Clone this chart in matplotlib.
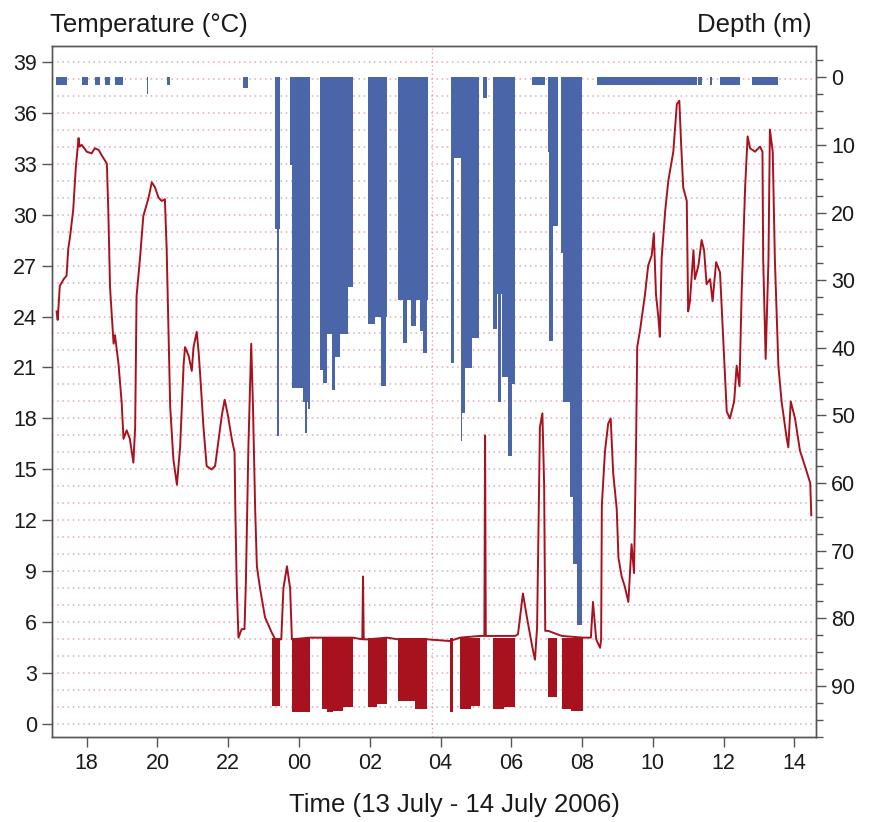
import matplotlib.pyplot as plt
import numpy as np

plt.rcParams['font.family'] = ['Liberation Sans', 'DejaVu Sans']

# time in hours from midnight of 13 July (values above 24 fall on 14 July)
temp_time = [17.15, 17.18, 17.24, 17.35, 17.43, 17.48, 17.53, 17.62, 17.69, 17.77,
             17.80, 17.86, 18.00, 18.14, 18.23, 18.34, 18.42, 18.57, 18.61, 18.66,
             18.71, 18.76, 18.80, 18.90, 18.99, 19.04, 19.13, 19.22, 19.32, 19.37,
             19.41, 19.51, 19.60, 19.75, 19.84, 19.93, 20.03, 20.12, 20.21, 20.26,
             20.31, 20.36, 20.45, 20.55, 20.64, 20.69, 20.74, 20.78, 20.88, 20.97,
             21.02, 21.11, 21.16, 21.21, 21.30, 21.39, 21.53, 21.63, 21.73, 21.82,
             21.90, 21.99, 22.10, 22.18, 22.20, 22.24, 22.29, 22.38, 22.46, 22.50,
             22.57, 22.65, 22.70, 22.76, 22.81, 22.90, 23.04, 23.23, 23.33, 23.50,
             23.56, 23.66, 23.75, 23.80, 24.31, 24.64, 25.53, 25.79, 25.81, 25.83,
             25.95, 26.49, 26.80, 27.62, 28.27, 28.55, 29.12, 29.24, 29.26, 29.28,
             29.48, 30.11, 30.19, 30.33, 30.45, 30.60, 30.67, 30.73, 30.81, 30.88,
             30.93, 30.96, 31.04, 31.30, 31.43, 32.03, 32.25, 32.31, 32.40, 32.51,
             32.54, 32.56, 32.65, 32.74, 32.81, 32.88, 32.98, 33.03, 33.12, 33.21,
             33.31, 33.40, 33.47, 33.53, 33.56, 33.64, 33.78, 33.87, 33.97, 34.03,
             34.09, 34.16, 34.20, 34.25, 34.35, 34.44, 34.58, 34.68, 34.75, 34.80,
             34.86, 34.96, 35.00, 35.05, 35.15, 35.19, 35.29, 35.38, 35.45, 35.52,
             35.62, 35.69, 35.79, 35.90, 35.98, 36.04, 36.09, 36.18, 36.30, 36.37,
             36.45, 36.51, 36.61, 36.68, 36.75, 36.89, 37.03, 37.10, 37.12, 37.19,
             37.27, 37.31, 37.39, 37.45, 37.55, 37.64, 37.78, 37.83, 37.90, 38.02,
             38.16, 38.30, 38.45, 38.48]
temp_value = [24.3, 23.8, 25.8, 26.2, 26.4, 28.0, 28.7, 30.3, 32.7, 34.5,
              34.0, 34.1, 33.7, 33.6, 33.9, 33.8, 33.5, 33.0, 30.3, 25.7,
              24.0, 22.4, 22.9, 21.2, 18.9, 16.8, 17.3, 16.8, 15.4, 17.5,
              25.2, 27.5, 29.9, 31.0, 31.9, 31.6, 31.0, 30.8, 30.9, 28.0,
              23.3, 18.7, 15.6, 14.1, 16.3, 18.7, 21.2, 22.2, 21.7, 20.8,
              22.2, 23.1, 22.0, 20.5, 17.5, 15.2, 15.0, 15.2, 16.8, 18.2,
              19.1, 18.2, 16.8, 16.0, 12.8, 8.2, 5.1, 5.6, 5.6, 8.4,
              16.3, 22.4, 18.7, 12.8, 9.3, 8.0, 6.3, 5.4, 5.0, 5.0,
              8.0, 9.3, 8.0, 5.0, 5.1, 5.1, 5.1, 5.0, 8.7, 5.0,
              5.0, 5.1, 5.0, 5.0, 4.9, 5.1, 5.2, 5.2, 17.0, 5.2,
              5.2, 5.2, 5.3, 7.7, 6.2, 4.5, 3.8, 5.7, 17.5, 18.3,
              14.0, 5.5, 5.5, 5.3, 5.2, 5.1, 5.1, 7.2, 5.0, 4.5,
              5.0, 12.9, 16.1, 17.7, 18.0, 14.8, 12.7, 9.8, 8.7, 8.1,
              7.2, 10.6, 8.9, 16.9, 22.2, 23.2, 25.3, 27.0, 27.6, 28.9,
              25.3, 23.9, 22.8, 27.4, 30.2, 32.0, 33.7, 36.5, 36.7, 34.2,
              31.6, 30.8, 24.3, 24.9, 27.9, 26.2, 27.0, 28.5, 27.9, 25.9,
              26.2, 24.9, 27.2, 26.6, 23.2, 20.7, 18.4, 18.0, 19.0, 21.1,
              19.9, 25.3, 31.6, 34.6, 33.9, 33.7, 34.0, 33.7, 27.4, 21.5,
              27.4, 35.0, 33.7, 27.4, 21.1, 19.0, 16.9, 16.3, 19.0, 18.0,
              16.1, 15.2, 14.2, 12.3]

# cold-water bouts: temperature swings between ~5 °C and the bout minimum
cold_start = [23.23, 23.79, 24.64, 24.78, 24.96, 25.25, 25.95, 26.20, 26.80, 27.28,
              28.27, 28.55, 28.85, 29.48, 29.80, 31.04, 31.43, 31.70]
cold_end = [23.46, 24.31, 24.78, 24.96, 25.25, 25.53, 26.20, 26.49, 27.28, 27.62,
            28.35, 28.85, 29.12, 29.80, 30.11, 31.30, 31.70, 32.03]
cold_min = [1.1, 0.7, 0.9, 0.7, 0.8, 1.0, 1.0, 1.2, 1.4, 0.9,
            0.7, 0.9, 1.1, 0.9, 1.0, 1.6, 0.9, 0.8]

# dive bouts: depth reached over each stretch of time
dive_start = [23.32, 23.37, 23.76, 23.81, 24.11, 24.17, 24.25, 24.59, 24.59, 24.68,
              24.79, 24.93, 25.02, 25.16, 25.38, 25.95, 25.95, 26.15, 26.32, 26.80,
              26.94, 27.17, 27.42, 27.50, 28.29, 28.30, 28.57, 28.58, 28.62, 28.69,
              28.88, 29.20, 29.48, 29.49, 29.63, 29.73, 29.92, 30.01, 31.04, 31.07,
              31.18, 31.41, 31.47, 31.66, 31.75, 31.86]
dive_end = [23.46, 23.43, 23.81, 24.31, 24.25, 24.22, 24.31, 25.52, 24.73, 24.79,
            24.93, 25.02, 25.16, 25.38, 25.52, 26.49, 26.15, 26.29, 26.46, 27.65,
            27.05, 27.31, 27.50, 27.62, 28.57, 28.37, 29.10, 28.62, 28.69, 28.88,
            29.10, 29.32, 30.11, 29.59, 29.70, 29.92, 30.01, 30.11, 31.32, 31.18,
            31.32, 32.00, 31.66, 31.86, 31.86, 32.00]
dive_depth = [22.5, 53.0, 13.0, 46.0, 48.0, 52.6, 49.0, 29.4, 43.3, 45.2,
              38.0, 46.2, 41.3, 38.0, 31.0, 35.4, 36.5, 33.5, 45.7, 33.0,
              39.3, 36.8, 37.5, 40.8, 12.0, 42.2, 30.5, 53.8, 49.6, 43.0,
              38.5, 3.0, 32.0, 37.2, 48.0, 44.3, 56.0, 45.4, 11.0, 39.0,
              22.0, 26.0, 48.0, 62.0, 72.0, 81.0]

# time spent at the surface
surface_start = [17.13, 17.87, 18.23, 18.52, 18.80, 19.70, 20.27, 22.42, 30.59,
                 32.42, 35.27, 35.62, 35.90, 36.80]
surface_end = [17.44, 18.04, 18.38, 18.66, 19.03, 19.74, 20.36, 22.57, 30.95,
               35.24, 35.39, 35.66, 36.46, 37.54]
surface_depth = [1.2, 1.2, 1.2, 1.2, 1.2, 2.5, 1.2, 1.6, 1.2,
                 1.2, 1.2, 1.2, 1.2, 1.2]

hour_ticks = [18, 20, 22, 24, 26, 28, 30, 32, 34, 36, 38]
hour_labels = ['18', '20', '22', '00', '02', '04', '06', '08', '10', '12', '14']
temp_ticks = list(range(0, 40, 3))
depth_ticks = list(range(0, 100, 10))

red = '#a8121f'
blue = '#4b65a9'
grey = '#555555'

fig = plt.figure(figsize=(8.74, 8.22), dpi=100)
ax = fig.add_axes([52.3 / 874, 1 - 737.3 / 822, (816 - 52.3) / 874, (737.3 - 46) / 822])
ax.set_xlim(17.028, 38.613)
ax.set_ylim(-0.765, 39.92)

# faint dotted rows at every degree
for lvl in range(0, 40):
    ax.axhline(lvl, color='#cc7384', lw=1.1, ls=(0, (1, 2.4)), alpha=0.6, zorder=0)
ax.axvline(27.76, color='#cc7384', lw=1.0, ls=(0, (1, 2)), alpha=0.6, zorder=0)

for s, e, m in zip(cold_start, cold_end, cold_min):
    ax.fill_between([s, e], [m, m], [5.1, 5.1], color=red, lw=0, zorder=2)
ax.plot(temp_time, temp_value, color=red, lw=1.4, zorder=3)

ax2 = ax.twinx()
ax2.set_ylim(97.6, -4.63)
ax2.bar(dive_start, np.array(dive_depth), width=np.array(dive_end) - np.array(dive_start),
        align='edge', color=blue, lw=0)
ax2.bar(surface_start, np.array(surface_depth),
        width=np.array(surface_end) - np.array(surface_start),
        align='edge', color=blue, lw=0)

ax.set_xticks(hour_ticks)
ax.set_xticklabels(hour_labels)
ax.set_yticks(temp_ticks)
ax2.set_yticks(depth_ticks)
ax2.set_yticks(np.arange(-2.5, 97.6, 2.5), minor=True)

for a in (ax, ax2):
    a.tick_params(direction='out', length=7, width=1, color=grey, labelsize=15.5,
                  pad=4, labelcolor='#1a1a1a')
    for sp in a.spines.values():
        sp.set_color(grey)
        sp.set_linewidth(1)
ax2.tick_params(which='minor', direction='out', length=5, width=1, color=grey)

fig.text(50 / 874, 1 - 32 / 822, 'Temperature (°C)', fontsize=18.5, color='#1a1a1a',
         ha='left', va='baseline')
fig.text(812 / 874, 1 - 32 / 822, 'Depth (m)', fontsize=18.5, color='#1a1a1a',
         ha='right', va='baseline')
fig.text(454 / 874, 1 - 812 / 822, 'Time (13 July - 14 July 2006)', fontsize=18.5,
         color='#1a1a1a', ha='center', va='baseline')

fig.savefig('out.png', dpi=100)
